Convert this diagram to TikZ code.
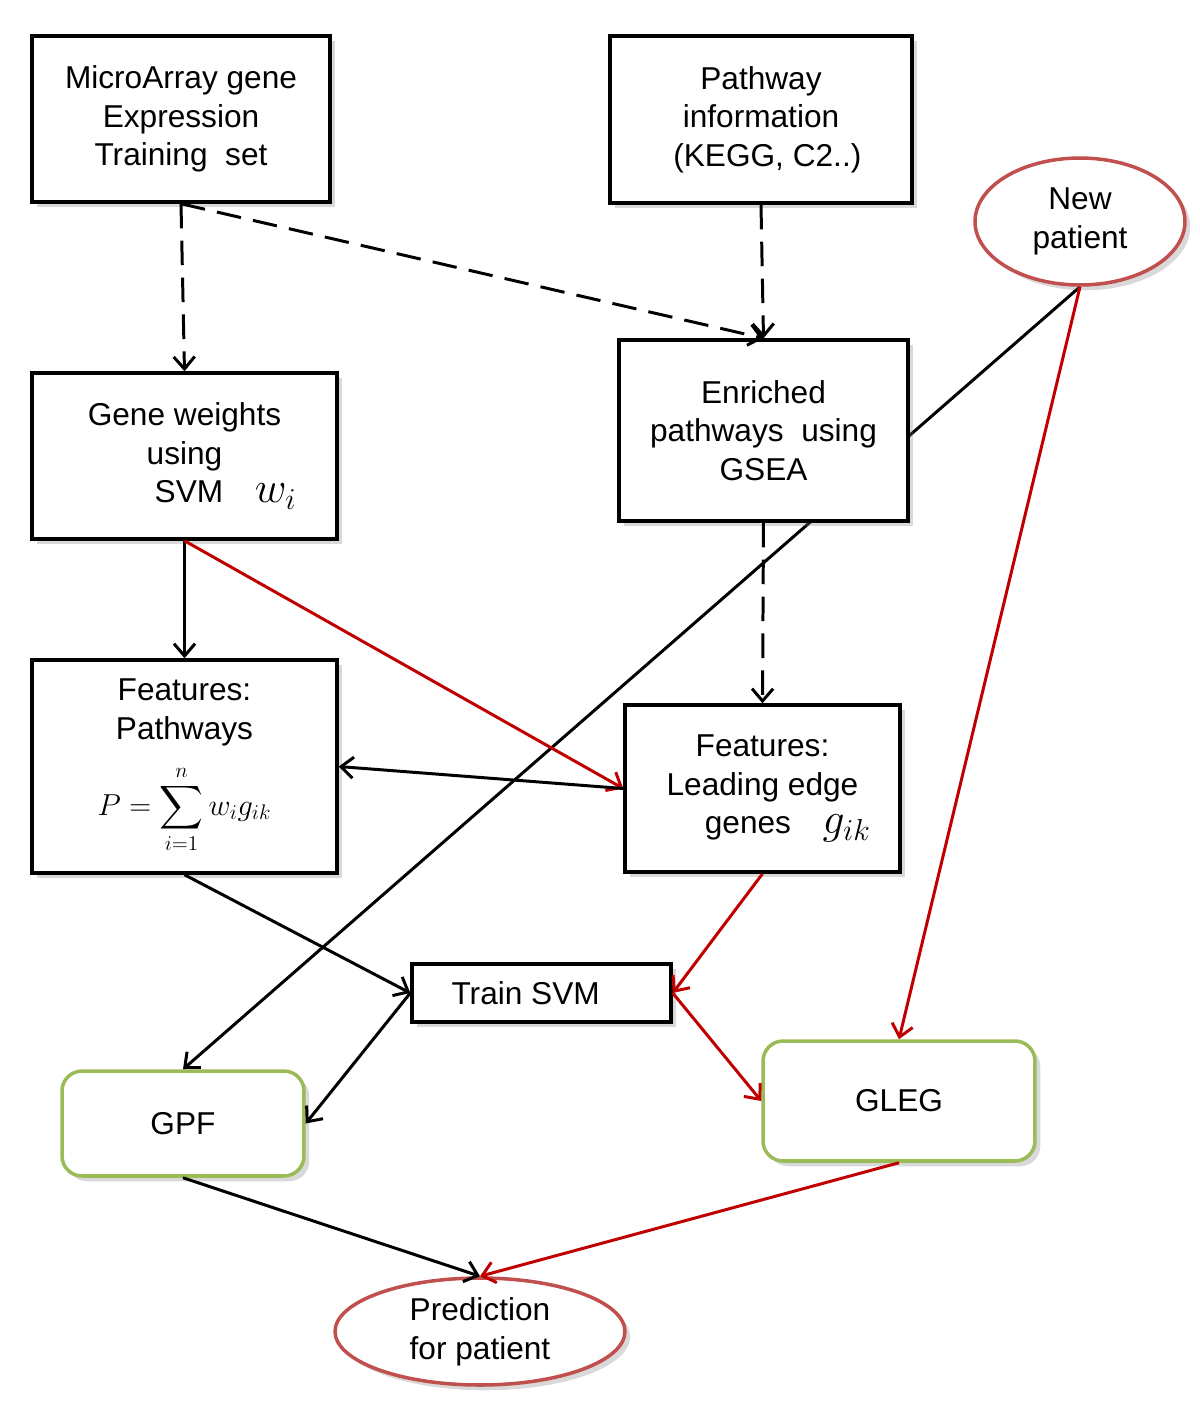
\documentclass[tikz,border=0pt]{standalone}
\usepackage{amsmath}
\usepackage{fontspec}
\setmainfont{Liberation Sans}
\usetikzlibrary{shapes.geometric,shadows,arrows.meta,backgrounds}
\definecolor{darkred}{RGB}{192,0,0}
\definecolor{ovalred}{RGB}{192,80,77}
\definecolor{leafgreen}{RGB}{155,187,89}
\newcommand{\bigmath}[1]{{\fontsize{25}{25}\selectfont$#1$}}

\begin{document}
\begin{tikzpicture}[
        x=0.02cm, y=-0.02cm,
        box/.style={draw, line width=2pt, fill=white, align=center, inner sep=0pt,
            font=\fontsize{18}{22}\selectfont,
            drop shadow={shadow xshift=3pt, shadow yshift=-3pt, opacity=.3}},
        pill/.style={box, draw=leafgreen, rounded corners=0.4cm},
        oval/.style={box, ellipse, draw=ovalred},
        conn/.style={line width=1.7pt, -{Straight Barb[length=7pt,width=12pt]}},
        dashconn/.style={conn, dash pattern=on 14pt off 7pt},
        redconn/.style={conn, darkred}
    ]
    \useasboundingbox (0,0) rectangle (1200,1401);

    % inputs
    \node (micro) at (181,119) [box, minimum width=5.96cm, minimum height=3.32cm]
        {MicroArray gene\\Expression\\Training\ \ set};
    \node (pathinfo) at (761,119.5) [box, minimum width=6.04cm, minimum height=3.34cm]
        {Pathway\\information\\\hspace*{0.4em}(KEGG, C2..)};
    \node (newpat) at (1080,221.5) [oval, minimum width=4.2cm, minimum height=2.54cm]
        {New\\patient};

    % features
    \node (weights) at (184.5,456) [box, minimum width=6.1cm, minimum height=3.32cm]
        {Gene weights\\using\\\hspace*{2.6em}SVM\quad \bigmath{w_i}};
    \node (enriched) at (763.5,430.5) [box, minimum width=5.78cm, minimum height=3.62cm]
        {Enriched\\pathways\ \ using\\GSEA};
    \node (featpath) at (184.5,766.5) [box, minimum width=6.1cm, minimum height=4.26cm]
        {Features:\\Pathways\\[10pt]{\fontsize{18}{18}\selectfont$\displaystyle P=\sum_{i=1}^{n} w_i g_{ik}$}};
    \node (featlead) at (762.5,788.5) [box, minimum width=5.5cm, minimum height=3.34cm]
        {Features:\\Leading edge\\\hspace*{1.6em}genes\quad \bigmath{g_{ik}}};

    % models
    \node (train) at (541.5,993) [box, minimum width=5.18cm, minimum height=1.16cm]
        {Train SVM\hspace*{1.0em}};
    \node (gpf) at (183,1123.5) [pill, minimum width=4.84cm, minimum height=2.1cm] {GPF};
    \node (gleg) at (899,1101) [pill, minimum width=5.44cm, minimum height=2.4cm] {GLEG};
    \node (predict) at (480,1331.5) [oval, minimum width=5.8cm, minimum height=2.14cm]
        {Prediction\\for patient};

    % connectors
    \begin{scope}[on background layer]
        \draw[conn] (newpat.south) -- (gpf.north);
    \end{scope}
    \draw[dashconn] (micro.south) -- (weights.north);
    \draw[dashconn] (micro.south) -- (enriched.north);
    \draw[dashconn] (pathinfo.south) -- (enriched.north);
    \draw[dashconn] (enriched.south) -- (featlead.north);
    \draw[conn] (weights.south) -- (featpath.north);
    \draw[redconn] (weights.south) -- (featlead.west);
    \draw[conn] (featlead.west) -- (featpath.east);
    \draw[conn] (featpath.south) -- (train.west);
    \draw[redconn] (featlead.south) -- (train.east);
    \draw[conn] (train.west) -- (gpf.east);
    \draw[redconn] (train.east) -- (gleg.west);
    \draw[redconn] (newpat.south) -- (gleg.north);
    \draw[conn] (gpf.south) -- (predict.north);
    \draw[redconn] (gleg.south) -- (predict.north);
\end{tikzpicture}
\end{document}
